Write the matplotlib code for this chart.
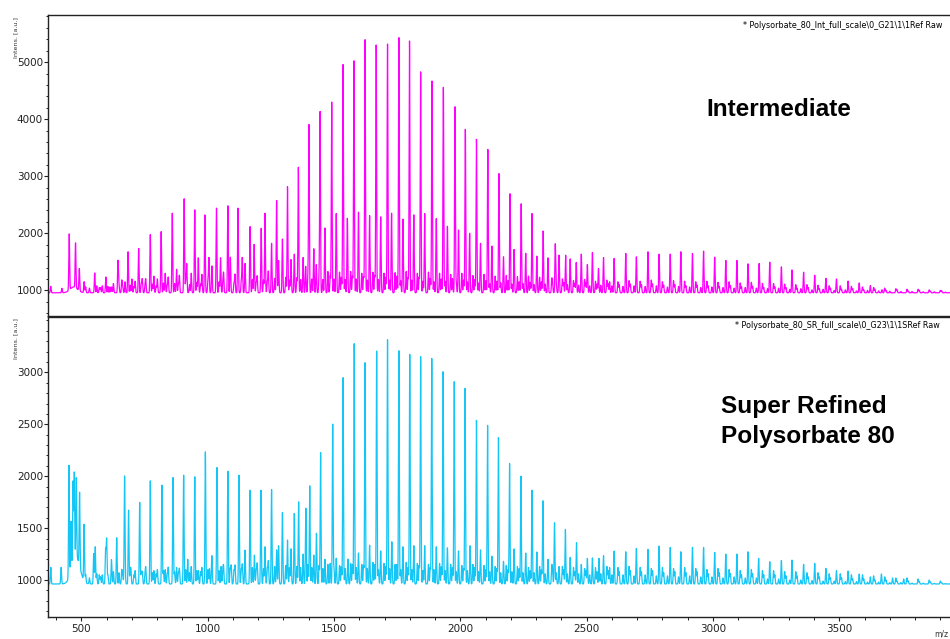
import numpy as np
import matplotlib
matplotlib.use("Agg")
import matplotlib.pyplot as plt
from matplotlib.ticker import MultipleLocator

# ---- peak lists (m/z, intensity a.u.) ----
top_mz = [379, 423, 452, 477, 492, 511, 553, 597, 645, 685,
          727, 773, 816, 860, 907, 949, 989, 1035, 1080, 1120,
          1168, 1212, 1227, 1273, 1316, 1359, 1401, 1445, 1491, 1536,
          1579, 1623, 1667, 1712, 1757, 1799, 1843, 1888, 1933, 1979,
          2020, 2064, 2109, 2153, 2197, 2241, 2284, 2328, 2376, 2417,
          2459, 2503, 2547, 2591]
top_int = [1070, 1035, 1940, 1741, 1347, 1150, 1305, 1235, 1524, 1676,
           1735, 1976, 2029, 2352, 2605, 2411, 2323, 2441, 2482, 2441,
           2117, 2088, 2352, 2575, 2817, 3157, 3893, 4122, 4299, 4957,
           5022, 5392, 5299, 5316, 5428, 5369, 4828, 4669, 4558, 4216,
           3822, 3646, 3470, 3046, 2693, 2517, 2346, 2041, 1811, 1617,
           1489, 1453, 1383, 1150]

top_sec_mz = [571, 613, 660, 700, 741, 787, 832, 877, 917, 963,
              1005, 1051, 1090, 1137, 1184, 1253, 1296, 1343, 1378, 1420,
              1464, 1509, 1553, 1597, 1641, 1685, 1728, 1773, 1816, 1859,
              1905, 1949, 1993, 2037, 2080, 2125, 2171, 2213, 2259, 2303,
              2347, 2391, 2435, 2479, 2523, 2567, 2609, 2655, 2697, 2743,
              2787, 2831, 2873, 2919, 2963, 3007, 3051, 3095, 3139, 3183,
              3225, 3271, 3313, 3359, 3403, 3447, 3489, 3535, 3579, 3623,
              3669]
top_sec_int = [1050, 1060, 1180, 1200, 1200, 1250, 1300, 1370, 1460, 1570,
               1570, 1570, 1400, 1570, 1806, 1824, 1900, 1635, 1577, 1729,
               2094, 2346, 2264, 2370, 2311, 2288, 2352, 2247, 2323, 2346,
               2258, 2124, 2058, 2000, 1824, 1776, 1588, 1718, 1650, 1600,
               1570, 1617, 1552, 1635, 1665, 1577, 1559, 1647, 1588, 1676,
               1635, 1635, 1676, 1647, 1688, 1582, 1524, 1524, 1465, 1471,
               1494, 1412, 1359, 1318, 1265, 1212, 1200, 1165, 1130, 1083,
               1012]

bot_mz = [379, 420, 451, 459, 467, 472, 480, 493, 511, 549,
          555, 596, 600, 640, 671, 687, 731, 773, 819, 863,
          905, 949, 991, 1037, 1080, 1124, 1168, 1211, 1253, 1296,
          1316, 1343, 1360, 1389, 1404, 1431, 1447, 1495, 1536, 1580,
          1623, 1669, 1712, 1757, 1800, 1843, 1887, 1932, 1976, 2019,
          2064, 2108, 2151, 2195, 2240, 2284, 2327, 2373, 2416, 2460,
          2503, 2549, 2591]
bot_int = [1122, 1122, 2041, 1433, 1737, 1785, 1721, 1673, 1506, 1256,
           1320, 1288, 1391, 1407, 1939, 1673, 1747, 1955, 1913, 1987,
           2010, 1994, 2234, 2083, 2048, 2010, 1865, 1865, 1872, 1651,
           1385, 1641, 1753, 1471, 1907, 1256, 2228, 2500, 2949, 3276,
           3093, 3205, 3314, 3208, 3173, 3151, 3134, 3006, 2910, 2846,
           2538, 2490, 2372, 2122, 2000, 1865, 1763, 1551, 1487, 1359,
           1208, 1208, 1120]

bot_sec_mz = [571, 619, 660, 696, 741, 787, 832, 877, 921, 963,
              1007, 1053, 1093, 1137, 1185, 1227, 1273, 1378, 1420, 1464,
              1509, 1555, 1597, 1641, 1685, 1729, 1773, 1816, 1859, 1905,
              1949, 1993, 2039, 2080, 2125, 2171, 2213, 2259, 2303, 2347,
              2391, 2435, 2479, 2523, 2567, 2609, 2655, 2697, 2743, 2787,
              2831, 2873, 2919, 2963, 3007, 3051, 3095, 3139, 3181, 3225,
              3271, 3313, 3359, 3403, 3447, 3489, 3535, 3579, 3623, 3667,
              3711, 3755]
bot_sec_int = [1050, 1130, 1100, 1100, 1080, 1090, 1100, 1120, 1200, 1090,
               1110, 1130, 1140, 1150, 1240, 1320, 1290, 1250, 1240, 1200,
               1210, 1202, 1260, 1336, 1280, 1368, 1320, 1330, 1330, 1320,
               1310, 1280, 1330, 1290, 1230, 1180, 1300, 1260, 1270, 1199,
               1130, 1218, 1150, 1213, 1234, 1279, 1272, 1304, 1295, 1327,
               1314, 1272, 1314, 1314, 1266, 1250, 1250, 1272, 1208, 1176,
               1188, 1192, 1151, 1160, 1112, 1090, 1087, 1058, 1030, 1058,
               1020, 1010]

# small peaks that make up the noisy floor
minor_a_mz = [583, 627, 673, 713, 755, 801, 844, 888, 935, 977,
              1017, 1063, 1108, 1148, 1196, 1240, 1281, 1330, 1388, 1430,
              1476, 1522, 1566, 1610, 1654, 1698, 1742, 1786, 1830, 1874,
              1918, 1962, 2006, 2050, 2094, 2138, 2182, 2226, 2270, 2314,
              2362, 2404, 2448, 2492, 2535, 2580, 2624, 2668, 2712, 2756,
              2800, 2844, 2888, 2932, 2976, 3020, 3064, 3108, 3152, 3196,
              3240, 3284, 3328, 3372, 3416, 3460, 3504, 3548, 3592, 3636,
              3680, 3724, 3768, 3812, 3856, 3900, 3944]
top_minor_a = [1080, 1120, 1150, 1160, 1180, 1200, 1230, 1260, 1300, 1280,
               1300, 1290, 1280, 1300, 1250, 1330, 1350, 1540, 1420, 1450,
               1330, 1320, 1330, 1300, 1320, 1300, 1310, 1330, 1300, 1320,
               1300, 1280, 1300, 1260, 1280, 1250, 1260, 1240, 1250, 1230,
               1180, 1200, 1170, 1190, 1160, 1180, 1150, 1170, 1160, 1180,
               1150, 1170, 1160, 1150, 1160, 1140, 1150, 1130, 1140, 1120,
               1120, 1110, 1100, 1100, 1090, 1080, 1080, 1070, 1060, 1050,
               1040, 1030, 1020, 1020, 1010, 1000, 1000]
bot_minor_a = [1050, 1080, 1100, 1090, 1110, 1100, 1120, 1110, 1130, 1120,
               1130, 1120, 1140, 1150, 1160, 1180, 1200, 1300, 1220, 1180,
               1150, 1140, 1160, 1150, 1170, 1160, 1150, 1170, 1160, 1150,
               1160, 1150, 1140, 1150, 1140, 1130, 1140, 1130, 1120, 1130,
               1120, 1130, 1120, 1110, 1120, 1130, 1120, 1130, 1120, 1110,
               1120, 1110, 1120, 1110, 1100, 1110, 1100, 1090, 1100, 1090,
               1090, 1080, 1080, 1070, 1070, 1060, 1060, 1050, 1050, 1040,
               1030, 1020, 1020, 1010, 1000, 990, 990]

minor_b_mz = [517, 561, 605, 649, 693, 737, 781, 825, 869, 913,
              957, 1001, 1045, 1089, 1133, 1177, 1221, 1265, 1309, 1353,
              1397, 1441, 1485, 1529, 1573, 1617, 1661, 1705, 1749, 1793,
              1837, 1881, 1925, 1969, 2013, 2057, 2101, 2145, 2189, 2233,
              2277, 2321, 2365, 2409, 2453, 2497, 2541, 2585, 2629, 2673,
              2717, 2761, 2805, 2849, 2893, 2937, 2981, 3025, 3069, 3113,
              3157, 3201, 3245, 3289, 3333, 3377, 3421, 3465, 3509, 3553,
              3597, 3641, 3685, 3729, 3773, 3817, 3861, 3905, 3949]
top_minor_b = [1060, 1080, 1070, 1100, 1090, 1120, 1110, 1130, 1120, 1150,
               1140, 1160, 1150, 1170, 1160, 1190, 1180, 1210, 1230, 1220,
               1250, 1240, 1260, 1230, 1250, 1240, 1260, 1230, 1250, 1220,
               1230, 1210, 1200, 1210, 1180, 1190, 1170, 1160, 1170, 1150,
               1140, 1150, 1130, 1140, 1120, 1130, 1110, 1120, 1100, 1110,
               1100, 1110, 1090, 1100, 1080, 1090, 1080, 1070, 1080, 1060,
               1070, 1050, 1060, 1050, 1040, 1050, 1030, 1040, 1020, 1030,
               1010, 1020, 1000, 1010, 990, 1000, 985, 995, 980]
bot_minor_b = [1040, 1060, 1050, 1070, 1060, 1080, 1070, 1090, 1080, 1100,
               1090, 1100, 1090, 1110, 1100, 1120, 1110, 1130, 1140, 1130,
               1150, 1140, 1160, 1130, 1150, 1140, 1150, 1130, 1150, 1120,
               1140, 1120, 1130, 1120, 1110, 1120, 1100, 1110, 1100, 1110,
               1090, 1100, 1090, 1100, 1080, 1090, 1080, 1090, 1080, 1090,
               1080, 1090, 1070, 1080, 1070, 1080, 1060, 1070, 1060, 1050,
               1060, 1050, 1050, 1040, 1040, 1030, 1030, 1020, 1020, 1010,
               1010, 1000, 1000, 990, 990, 985, 980, 975, 970]

minor_c_mz = [532, 576, 620, 664, 708, 752, 796, 840, 884, 928,
              972, 1016, 1060, 1104, 1148, 1192, 1236, 1280, 1324, 1368,
              1412, 1456, 1500, 1544, 1588, 1632, 1676, 1720, 1764, 1808,
              1852, 1896, 1940, 1984, 2028, 2072, 2116, 2160, 2204, 2248,
              2292, 2336, 2380, 2424, 2468, 2512, 2556, 2600, 2644, 2688,
              2732, 2776, 2820, 2864, 2908, 2952, 2996, 3040, 3084, 3128,
              3172, 3216, 3260, 3304, 3348, 3392, 3436, 3480, 3524, 3568,
              3612, 3656, 3700, 3744, 3788, 3832, 3876, 3920, 3964]
top_minor_c = [1040, 1050, 1060, 1060, 1070, 1080, 1080, 1090, 1100, 1100,
               1110, 1110, 1120, 1120, 1130, 1140, 1150, 1160, 1180, 1190,
               1200, 1190, 1200, 1190, 1200, 1180, 1190, 1180, 1170, 1180,
               1160, 1150, 1160, 1140, 1150, 1130, 1120, 1130, 1110, 1120,
               1100, 1110, 1090, 1100, 1090, 1080, 1090, 1080, 1070, 1080,
               1070, 1080, 1060, 1070, 1060, 1050, 1060, 1050, 1040, 1050,
               1040, 1030, 1040, 1020, 1030, 1010, 1020, 1000, 1010, 990,
               1000, 990, 985, 980, 980, 975, 975, 970, 970]
bot_minor_c = [1020, 1030, 1040, 1040, 1050, 1050, 1060, 1060, 1070, 1070,
               1080, 1080, 1090, 1090, 1100, 1100, 1110, 1110, 1120, 1120,
               1120, 1110, 1120, 1110, 1120, 1110, 1100, 1110, 1100, 1100,
               1090, 1100, 1090, 1080, 1090, 1080, 1080, 1070, 1080, 1070,
               1070, 1060, 1070, 1060, 1060, 1050, 1060, 1050, 1050, 1040,
               1050, 1040, 1040, 1030, 1040, 1030, 1030, 1020, 1030, 1020,
               1020, 1010, 1010, 1000, 1000, 995, 990, 990, 985, 985,
               980, 980, 975, 975, 970, 970, 968, 966, 965]

# broad low-mass hump under the first cluster (m/z, intensity, width)
top_hump = (470, 1060, 15)
bot_hump = (478, 1230, 16)

top_base = 958
bot_base = 962
peak_sigma = 1.6

top_label = "* Polysorbate_80_Int_full_scale\\0_G21\\1\\1Ref Raw"
bot_label = "* Polysorbate_80_SR_full_scale\\0_G23\\1\\1SRef Raw"


def spectrum(mz, base, peak_lists, hump):
    y = np.full_like(mz, base, dtype=float)
    for pm, pi in peak_lists:
        for m, h in zip(pm, pi):
            sel = np.abs(mz - m) < 8
            y[sel] += (h - base) * np.exp(-0.5 * ((mz[sel] - m) / peak_sigma) ** 2)
    hm, hh, hw = hump
    y += (hh - base) * np.exp(-0.5 * ((mz - hm) / hw) ** 2)
    return y


mz = np.arange(360, 3985, 0.5)
y_top = spectrum(mz, top_base, [(top_mz, top_int), (top_sec_mz, top_sec_int),
                                (minor_a_mz, top_minor_a), (minor_b_mz, top_minor_b),
                                (minor_c_mz, top_minor_c)], top_hump)
y_bot = spectrum(mz, bot_base, [(bot_mz, bot_int), (bot_sec_mz, bot_sec_int),
                                (minor_a_mz, bot_minor_a), (minor_b_mz, bot_minor_b),
                                (minor_c_mz, bot_minor_c)], bot_hump)

plt.rcParams['font.family'] = ['DejaVu Sans']
fig = plt.figure(figsize=(9.5, 6.39), dpi=100)
W, H = 950.0, 639.0
ax1 = fig.add_axes([48 / W, 1 - 315.5 / H, 1.01 - 48 / W, 300.5 / H])
ax2 = fig.add_axes([48 / W, 1 - 617 / H, 1.01 - 48 / W, 300.5 / H])

ax1.plot(mz, y_top, color="#FF00FF", lw=0.9)
ax2.plot(mz, y_bot, color="#14C6F5", lw=0.9)

for ax in (ax1, ax2):
    ax.set_xlim(368, 3976)
    for s in ax.spines.values():
        s.set_linewidth(1.0)
        s.set_color("#222222")
    ax.spines['right'].set_visible(False)
    ax.tick_params(axis='y', which='major', direction='out', length=2.8, width=0.8,
                   labelsize=7.5, pad=0.8, colors="#222222")
    ax.tick_params(axis='y', which='minor', direction='out', length=1.6, width=0.7,
                   colors="#222222")

ax1.set_ylim(560, 5825)
ax1.set_yticks([1000, 2000, 3000, 4000, 5000])
ax1.yaxis.set_minor_locator(MultipleLocator(200))
ax1.tick_params(axis='x', which='both', bottom=False, labelbottom=False)

ax2.set_ylim(644, 3538)
ax2.set_yticks([1000, 1500, 2000, 2500, 3000])
ax2.yaxis.set_minor_locator(MultipleLocator(100))
ax2.xaxis.set_major_locator(MultipleLocator(500))
ax2.xaxis.set_minor_locator(MultipleLocator(100))
ax2.tick_params(axis='x', which='major', direction='out', length=2.8, width=0.8,
                labelsize=7.5, pad=2.0, colors="#222222")
ax2.tick_params(axis='x', which='minor', direction='out', length=2.0, width=0.7,
                colors="#222222")

# small axis captions
fig.text(16 / W, 1 - 17 / H, "Intens. [a.u.]", rotation=90, fontsize=4.6,
         ha='center', va='top', color="#333333")
fig.text(16 / W, 1 - 318 / H, "Intens. [a.u.]", rotation=90, fontsize=4.6,
         ha='center', va='top', color="#333333")
fig.text(948 / W, 1 - 634 / H, "m/z", fontsize=5.5, ha='right', va='center',
         color="#333333")

fig.text(743 / W, 1 - 25 / H, top_label, fontsize=5.75, ha='left', va='center')
fig.text(735 / W, 1 - 326 / H, bot_label, fontsize=5.75, ha='left', va='center')

big = dict(family=['Liberation Sans'], fontweight='bold', fontsize=17.6, color='black')
fig.text(706 / W, 1 - 116 / H, "Intermediate", ha='left', va='baseline', **big)
fig.text(721 / W, 1 - 413 / H, "Super Refined", ha='left', va='baseline', **big)
fig.text(721 / W, 1 - 443 / H, "Polysorbate 80", ha='left', va='baseline', **big)

fig.savefig("out.png", dpi=100)
